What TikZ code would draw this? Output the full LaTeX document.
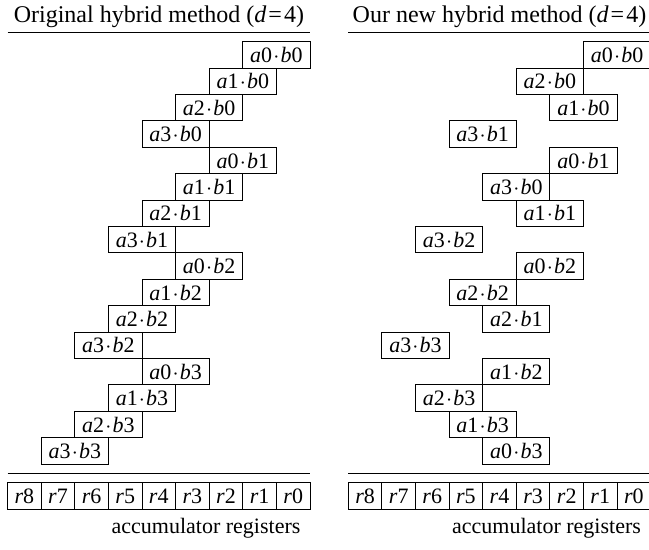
\documentclass[tikz,border=0pt]{standalone}
\usepackage{fontspec}
\setmainfont{Liberation Serif}
\newcommand{\prd}[2]{\textit{a}#1\kern0.6pt$\cdot$\kern0.6pt\textit{b}#2}
\begin{document}
\begin{tikzpicture}[x=0.5pt,y=-0.5pt,
  cellbox/.style={draw,line width=0.5pt,minimum width=33.6pt,minimum height=13.2pt,inner sep=0pt,outer sep=0pt,font=\fontsize{11}{12}\selectfont},
  regbox/.style={draw,line width=0.5pt,minimum width=16.8pt,minimum height=13.5pt,inner sep=0pt,outer sep=0pt,font=\fontsize{11}{12}\selectfont},
  titletext/.style={font=\fontsize{12}{14}\selectfont,inner sep=0pt,anchor=base},
  caption/.style={font=\fontsize{11}{13}\selectfont,inner sep=0pt,anchor=base},
  rule/.style={line width=0.5pt}]
\useasboundingbox (0,0) rectangle (649,550);
% titles
\node[titletext] (Ltitle) at (158.9,23) {Original hybrid method (\textit{d}\kern1pt=\kern1pt4)};
\node[titletext] (Rtitle) at (499.5,23) {Our new hybrid method (\textit{d}\kern1pt=\kern1pt4)};
% top rules
\coordinate (LtA) at (7.7,32.3); \coordinate (LtB) at (310,32.3);
\coordinate (RtA) at (348.3,32.3); \coordinate (RtB) at (650.7,32.3);
\draw[rule] (LtA) -- (LtB);
\draw[rule] (RtA) -- (RtB);
% left panel products
\foreach \k in {0,...,3}{\foreach \j in {0,...,3}{
  \pgfmathsetmacro\rw{4*\k+\j}
  \pgfmathsetmacro\xc{310-(\j+\k+1)*33.6}
  \node[cellbox] (L\j\k) at (\xc,{55+26.4*\rw}) {\prd{\j}{\k}};
}}
% right panel products
\foreach \j/\k/\rw in {0/0/0,2/0/1,1/0/2,3/1/3,0/1/4,3/0/5,1/1/6,3/2/7,0/2/8,2/2/9,2/1/10,3/3/11,1/2/12,2/3/13,1/3/14,0/3/15}{
  \pgfmathsetmacro\xc{650.7-(\j+\k+1)*33.6}
  \node[cellbox] (R\j\k) at (\xc,{55+26.4*\rw}) {\prd{\j}{\k}};
}
% bottom rules
\coordinate (LbA) at (7.7,473.3); \coordinate (LbB) at (310,473.3);
\coordinate (RbA) at (348.3,473.3); \coordinate (RbB) at (650.7,473.3);
\draw[rule] (LbA) -- (LbB);
\draw[rule] (RbA) -- (RbB);
% registers
\foreach \r in {0,...,8}{
  \node[regbox] (Lr\r) at ({310-(\r+0.5)*33.6},496.2) {\textit{r}\r};
  \node[regbox] (Rr\r) at ({650.7-(\r+0.5)*33.6},496.2) {\textit{r}\r};
}
\node[caption] (Lcap) at (206,534) {accumulator registers};
\node[caption] (Rcap) at (546.5,534) {accumulator registers};
\end{tikzpicture}
\end{document}
